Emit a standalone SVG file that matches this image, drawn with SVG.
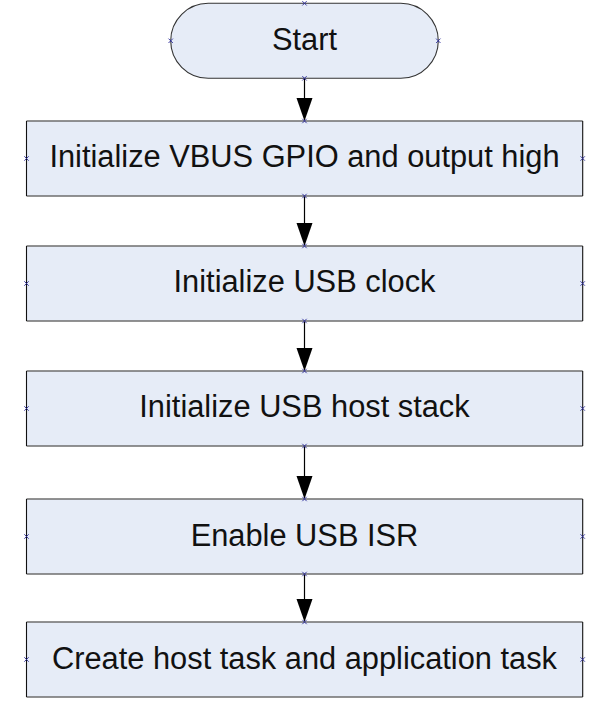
<svg xmlns="http://www.w3.org/2000/svg" width="609" height="701" viewBox="0 0 609 701">
<style>
.fill{fill:#E6ECF7;stroke:none}
.hz{stroke:#6E6E6E;stroke-width:1.6;fill:none}
.vt{stroke:#111;stroke-width:1.1;fill:none}
.term{fill:#E6ECF7;stroke:#333;stroke-width:1.1}
.lbl{font-family:"Liberation Sans",Arial,sans-serif;font-size:30.8px;fill:#111;text-anchor:middle}
.cn{stroke:#000;stroke-width:1.2;fill:none}
.ah{fill:#000}
.pt{stroke:#2A2A9A;stroke-width:0.9;fill:none}
</style>
<defs>
<path id="x" class="pt" d="M-2.2,-2.2L2.2,2.2M-2.2,2.2L2.2,-2.2"/>
</defs>
<g id="connectors">
<line class="cn" x1="304.5" y1="78.5" x2="304.5" y2="100"/>
<polygon class="ah" points="296.5,98 312.5,98 304.5,121"/>
<line class="cn" x1="304.5" y1="196" x2="304.5" y2="225"/>
<polygon class="ah" points="296.5,223 312.5,223 304.5,246"/>
<line class="cn" x1="304.5" y1="321" x2="304.5" y2="350"/>
<polygon class="ah" points="296.5,348 312.5,348 304.5,371"/>
<line class="cn" x1="304.5" y1="446" x2="304.5" y2="478"/>
<polygon class="ah" points="296.5,476 312.5,476 304.5,499"/>
<line class="cn" x1="304.5" y1="574" x2="304.5" y2="601"/>
<polygon class="ah" points="296.5,599 312.5,599 304.5,622"/>
</g>
<g id="start">
<rect class="term" x="170.7" y="3.3" width="267.6" height="75" rx="37.5" ry="37.5"/>
<text class="lbl" x="304.5" y="50">Start</text>
<use href="#x" x="304.5" y="3.3"/><use href="#x" x="304.5" y="78.3"/><use href="#x" x="170.7" y="40.8"/><use href="#x" x="438.3" y="40.8"/>
</g>
<g id="step1">
<rect class="fill" x="26.5" y="121" width="556.2" height="75"/>
<line class="hz" x1="26.5" y1="121" x2="582.7" y2="121"/><line class="hz" x1="26.5" y1="196" x2="582.7" y2="196"/>
<line class="vt" x1="26.5" y1="121" x2="26.5" y2="196"/><line class="vt" x1="582.7" y1="121" x2="582.7" y2="196"/>
<text class="lbl" x="304.5" y="167">Initialize VBUS GPIO and output high</text>
<use href="#x" x="304.5" y="121"/><use href="#x" x="304.5" y="196"/><use href="#x" x="26.5" y="158.5"/><use href="#x" x="582.7" y="158.5"/>
</g>
<g id="step2">
<rect class="fill" x="26.5" y="246" width="556.2" height="75"/>
<line class="hz" x1="26.5" y1="246" x2="582.7" y2="246"/><line class="hz" x1="26.5" y1="321" x2="582.7" y2="321"/>
<line class="vt" x1="26.5" y1="246" x2="26.5" y2="321"/><line class="vt" x1="582.7" y1="246" x2="582.7" y2="321"/>
<text class="lbl" x="304.5" y="292.3">Initialize USB clock</text>
<use href="#x" x="304.5" y="246"/><use href="#x" x="304.5" y="321"/><use href="#x" x="26.5" y="283.5"/><use href="#x" x="582.7" y="283.5"/>
</g>
<g id="step3">
<rect class="fill" x="26.5" y="371" width="556.2" height="75"/>
<line class="hz" x1="26.5" y1="371" x2="582.7" y2="371"/><line class="hz" x1="26.5" y1="446" x2="582.7" y2="446"/>
<line class="vt" x1="26.5" y1="371" x2="26.5" y2="446"/><line class="vt" x1="582.7" y1="371" x2="582.7" y2="446"/>
<text class="lbl" x="304.5" y="416.5">Initialize USB host stack</text>
<use href="#x" x="304.5" y="371"/><use href="#x" x="304.5" y="446"/><use href="#x" x="26.5" y="408.5"/><use href="#x" x="582.7" y="408.5"/>
</g>
<g id="step4">
<rect class="fill" x="26.5" y="499" width="556.2" height="75"/>
<line class="hz" x1="26.5" y1="499" x2="582.7" y2="499"/><line class="hz" x1="26.5" y1="574" x2="582.7" y2="574"/>
<line class="vt" x1="26.5" y1="499" x2="26.5" y2="574"/><line class="vt" x1="582.7" y1="499" x2="582.7" y2="574"/>
<text class="lbl" x="304.5" y="545.5">Enable USB ISR</text>
<use href="#x" x="304.5" y="499"/><use href="#x" x="304.5" y="574"/><use href="#x" x="26.5" y="536.5"/><use href="#x" x="582.7" y="536.5"/>
</g>
<g id="step5">
<rect class="fill" x="26.5" y="622" width="556.2" height="75"/>
<line class="hz" x1="26.5" y1="622" x2="582.7" y2="622"/><line class="hz" x1="26.5" y1="697" x2="582.7" y2="697"/>
<line class="vt" x1="26.5" y1="622" x2="26.5" y2="697"/><line class="vt" x1="582.7" y1="622" x2="582.7" y2="697"/>
<text class="lbl" x="304.5" y="669">Create host task and application task</text>
<use href="#x" x="304.5" y="622"/><use href="#x" x="26.5" y="659.5"/><use href="#x" x="582.7" y="659.5"/>
</g>
</svg>
